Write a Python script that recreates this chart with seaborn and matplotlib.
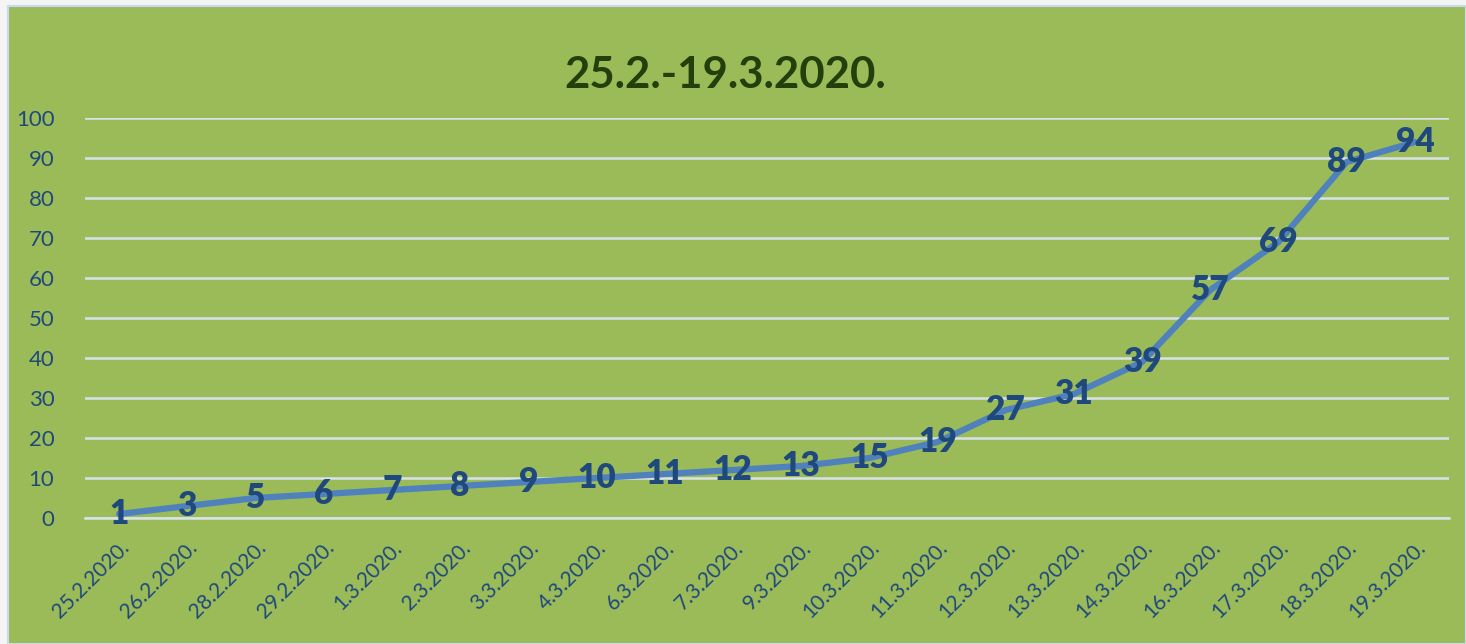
import matplotlib
matplotlib.use('Agg')
import matplotlib.pyplot as plt
from matplotlib.patches import Rectangle
import numpy as np
import pandas as pd
import seaborn as sns

# ── Data ──────────────────────────────────────────────────────────────────────
dates = ["25.2.2020.", "26.2.2020.", "28.2.2020.", "29.2.2020.", "1.3.2020.",
         "2.3.2020.", "3.3.2020.", "4.3.2020.", "6.3.2020.", "7.3.2020.",
         "9.3.2020.", "10.3.2020.", "11.3.2020.", "12.3.2020.", "13.3.2020.",
         "14.3.2020.", "16.3.2020.", "17.3.2020.", "18.3.2020.", "19.3.2020."]
cases = [1, 3, 5, 6, 7, 8, 9, 10, 11, 12, 13, 15, 19, 27, 31, 39, 57, 69, 89, 94]
title = "25.2.-19.3.2020."

GREEN = "#9BBB59"
NAVY = "#1F497D"
LINE = "#4F81BD"
GRID = "#D9E1EA"

sns.set_theme(style="white")
plt.rcParams['font.family'] = ['Lato', 'DejaVu Sans']

df = pd.DataFrame({"date": dates, "cases": cases})

fig = plt.figure(figsize=(14.66, 6.44), dpi=100, facecolor="#F3F4F3")
fig.patches.append(Rectangle((8 / 1466, 0), 1 - 8 / 1466, 1 - 6 / 644,
                             transform=fig.transFigure, facecolor=GREEN,
                             edgecolor="#C9DAEE", linewidth=1.5, zorder=-10))
ax = fig.add_axes([85 / 1466, 1 - 518 / 644, (1449 - 85) / 1466, 400 / 644])
ax.set_facecolor("none")

sns.lineplot(data=df, x="date", y="cases", ax=ax, color=LINE, linewidth=4.5,
             sort=False, zorder=3)

for i, v in enumerate(cases):
    ax.text(i, v, str(v), ha="center", va="center", fontsize=24,
            fontweight="heavy", color=NAVY, zorder=4)

ax.set_xlim(-0.5, len(dates) - 0.5)
ax.set_ylim(0, 100)
ax.set_yticks(range(0, 101, 10))
ax.yaxis.grid(True, color=GRID, linewidth=1.8)
ax.set_axisbelow(True)
for s in ["top", "right", "left"]:
    ax.spines[s].set_visible(False)
ax.spines["bottom"].set_color(GRID)
ax.spines["bottom"].set_linewidth(1.8)

ax.set_xticks(range(len(dates)))
ax.set_xticklabels(dates, rotation=45, ha="right", rotation_mode="anchor",
                   fontsize=15, color=NAVY)
ax.set_xticks(np.arange(-0.5, len(dates), 1), minor=True)
ax.tick_params(axis="x", which="major", length=0, pad=14)
ax.tick_params(axis="x", which="minor", length=6, width=1.8, color=GRID,
               direction="out")
ax.tick_params(axis="y", length=0, labelsize=16, labelcolor=NAVY, pad=22)

ax.set_xlabel("")
ax.set_ylabel("")
fig.text(725 / 1466, 1 - 75 / 644, title, ha="center", va="center",
         fontsize=31.5, fontweight="bold", color="#223F0C")

fig.savefig("out.png", dpi=100, facecolor=fig.get_facecolor())
